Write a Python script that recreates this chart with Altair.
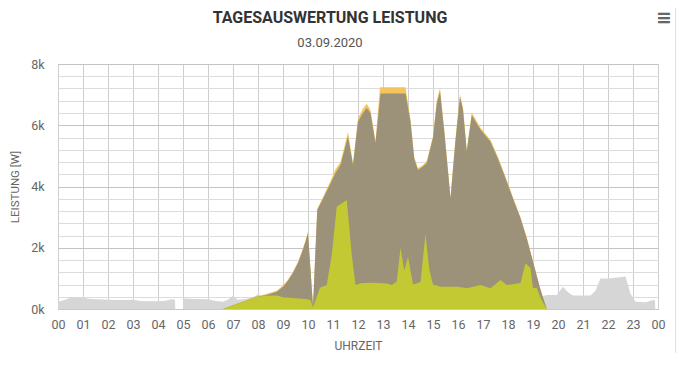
import altair as alt
import pandas as pd

# ---- data (hours, watts) ----
cons_h = [0.0, 0.3, 0.5, 1.0, 1.3, 1.6, 2.0, 2.5, 3.0, 3.3, 3.6, 4.0, 4.3, 4.55, 4.68, 4.69, 5.0, 5.01,
          5.5, 6.0, 6.3, 6.6, 6.8, 7.0, 7.2, 7.5, 7.8, 8.0, 8.2, 8.5, 8.75, 9.0, 9.5, 10.0, 10.2, 10.5,
          11.0, 12.0, 13.0, 14.0, 15.0, 16.0, 17.0, 18.0, 18.7, 19.0, 19.3, 19.55, 19.95, 20.2, 20.4,
          20.6, 21.3, 21.5, 21.7, 22.0, 22.4, 22.7, 22.9, 23.1, 23.5, 23.8, 23.88, 23.89, 24.0]
cons_w = [240, 300, 380, 370, 330, 320, 300, 290, 300, 260, 250, 250, 270, 320, 300, 0, 0, 340,
          330, 320, 260, 240, 300, 430, 300, 330, 380, 490, 400, 450, 470, 380, 350, 300, 80, 690,
          800, 850, 820, 800, 760, 730, 700, 800, 1400, 700, 400, 457, 460, 730, 550,
          440, 440, 600, 1000, 1000, 1030, 1060, 500, 240, 220, 290, 280, 0, 0]

prod_h = [6.6, 7.0, 7.5, 7.95, 8.3, 8.75, 9.0, 9.2, 9.4, 9.6, 9.75, 9.9, 10.0, 10.2, 10.37, 10.6,
          10.9, 11.1, 11.3, 11.6, 11.8, 12.0, 12.2, 12.35, 12.5, 12.7, 12.88, 13.2, 13.6, 13.9,
          14.1, 14.25, 14.4, 14.6, 14.75, 15.0, 15.15, 15.28, 15.45, 15.7, 15.9, 16.08, 16.2,
          16.35, 16.55, 16.9, 17.3, 17.6, 17.9, 18.2, 18.5, 18.75, 19.0, 19.28, 19.55]
prod_w = [0, 130, 280, 420, 480, 600, 770, 960, 1220, 1540, 1870, 2240, 2520, 100, 3270, 3660,
          4180, 4560, 4800, 5780, 4760, 6220, 6550, 6700, 6500, 5480, 7240, 7240, 7240, 7240,
          6180, 4960, 4600, 4700, 4830, 5650, 6800, 7220, 5860, 3660, 5580, 7000, 6580,
          5200, 6420, 5920, 5520, 4960, 4320, 3650, 3000, 2340, 1570, 700, 0]

brown_h = [6.6, 7.0, 7.5, 7.95, 8.3, 8.75, 9.0, 9.2, 9.4, 9.6, 9.75, 9.9, 10.0, 10.2, 10.37, 10.6,
           10.9, 11.1, 11.3, 11.6, 11.8, 12.0, 12.2, 12.35, 12.5, 12.7, 12.9, 13.2, 13.6, 13.9,
           14.1, 14.25, 14.4, 14.6, 14.75, 15.0, 15.15, 15.28, 15.45, 15.7, 15.9, 16.08, 16.2,
           16.35, 16.55, 16.9, 17.3, 17.6, 17.9, 18.2, 18.5, 18.75, 19.0, 19.28, 19.55]
brown_w = [0, 120, 260, 400, 450, 565, 730, 920, 1180, 1500, 1830, 2200, 2480, 80, 3230, 3600,
           4100, 4440, 4700, 5630, 4700, 6120, 6400, 6560, 6400, 5420, 7040, 7040, 7040, 7040,
           6120, 4900, 4540, 4650, 4770, 5580, 6700, 7100, 5800, 3610, 5500, 6930, 6500,
           5140, 6330, 5850, 5460, 4900, 4270, 3600, 2960, 2300, 1540, 680, 0]

green_h = [6.6, 7.0, 7.5, 7.95, 8.3, 8.75, 9.0, 9.5, 9.9, 10.1, 10.2, 10.48, 10.75, 10.95, 11.15,
           11.55, 11.75, 11.9, 12.1, 12.5, 13.0, 13.15, 13.35, 13.55, 13.7, 13.85, 14.0, 14.2,
           14.5, 14.7, 14.85, 15.0, 15.3, 16.0, 16.35, 16.9, 17.3, 17.7, 17.95, 18.5, 18.7,
           18.9, 19.0, 19.15, 19.3, 19.55]
green_w = [0, 120, 260, 400, 430, 440, 380, 350, 330, 290, 60, 690, 780, 1760, 3340,
           3560, 1760, 780, 840, 860, 840, 830, 780, 900, 2000, 1250, 1710, 800,
           880, 2450, 1300, 800, 730, 730, 680, 780, 680, 950, 780, 850, 1490,
           1340, 680, 690, 360, 0]

hour_ticks = list(range(0, 25))
watt_ticks = list(range(0, 8001, 400))

cons = pd.DataFrame({"h": cons_h, "w": cons_w})
prod = pd.DataFrame({"h": prod_h, "w": prod_w})
brown = pd.DataFrame({"h": brown_h, "w": brown_w})
green = pd.DataFrame({"h": green_h, "w": green_w})

FONT = "Roboto, sans-serif"

x_enc = alt.X("h:Q", scale=alt.Scale(domain=[0, 24], nice=False, zero=False),
              axis=alt.Axis(values=hour_ticks, title="UHRZEIT",
                            labelExpr="(datum.value % 24 < 10 ? '0' : '') + (datum.value % 24)",
                            grid=True, gridColor="#cfcfcf", ticks=False, labelPadding=9,
                            labelFlush=False, labelOverlap=False,
                            domainColor="#c8c8c8", labelFontSize=12.5, labelColor="#666",
                            labelFont=FONT, titleFont=FONT, titleFontSize=12,
                            titleFontWeight="normal", titleColor="#666", titlePadding=10))
y_enc = alt.Y("w:Q", scale=alt.Scale(domain=[0, 8000], nice=False),
              axis=alt.Axis(values=watt_ticks, title="LEISTUNG [W]",
                            labelExpr="datum.value % 2000 == 0 ? (datum.value / 1000) + 'k' : ''",
                            grid=True,
                            gridColor={"condition": {"test": "datum.value % 2000 === 0", "value": "#c4c4c4"},
                                       "value": "#dcdcdc"},
                            ticks=False, domain=False, labelPadding=14, labelFontSize=12.5,
                            labelFlush=False, labelOverlap=False,
                            labelColor="#666", labelFont=FONT, titleFont=FONT, titleFontSize=11.5,
                            titleFontWeight="normal", titleColor="#666", titlePadding=10))

def area(df, color):
    return alt.Chart(df).mark_area(color=color, opacity=1, interpolate="linear").encode(x=x_enc, y=y_enc)

layers = [
    area(cons, "#d6d6d6"),
    area(prod, "#f3c55c"),
    area(brown, "#9b9279"),
    area(green, "#c3c932"),
]

icon = alt.Chart(pd.DataFrame({"t": ["\u2261"]})).mark_text(
    font="DejaVu Sans", fontSize=19, fontWeight="bold", color="#666"
).encode(x=alt.value(606), y=alt.value(-46), text="t:N")

edge = alt.Chart(pd.DataFrame({"t": [0]})).mark_rect(color="#e0e0e0", clip=False).encode(
    x=alt.value(617), x2=alt.value(618), y=alt.value(-64), y2=alt.value(289))

chart = alt.layer(*layers, edge, icon).properties(
    width=600, height=245,
    padding={"left": 50, "top": 56, "right": 18, "bottom": 44},
    title=alt.TitleParams(text="TAGESAUSWERTUNG LEISTUNG", subtitle="03.09.2020",
                          anchor="middle", dx=-28, offset=-50, font=FONT, fontSize=16,
                          fontWeight="bold", color="#333", subtitleFont=FONT,
                          subtitleFontSize=13, subtitleColor="#555", subtitlePadding=11),
).configure(autosize=alt.AutoSizeParams(type="none")).configure_view(stroke="#cccccc")

chart.save("out.html", embed_options={"renderer": "svg", "actions": False})
